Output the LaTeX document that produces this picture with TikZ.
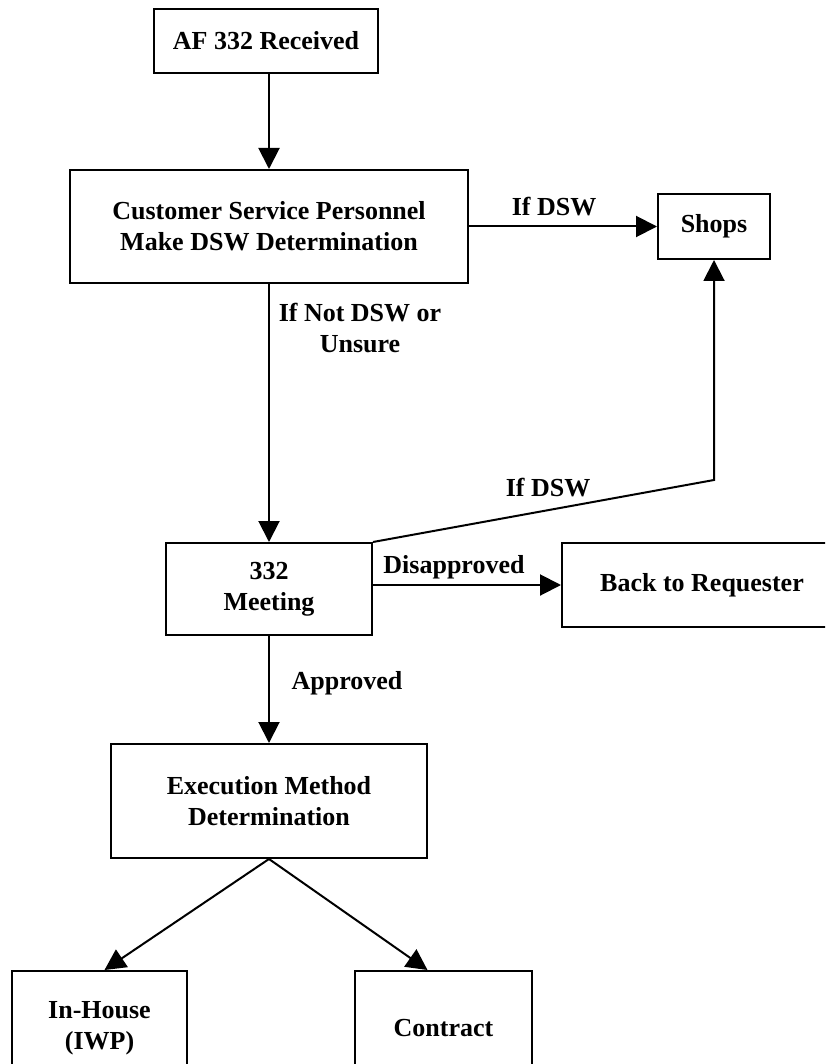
\documentclass[tikz,border=0pt]{standalone}
\usepackage{fontspec}
\setmainfont{Liberation Serif}
\usetikzlibrary{arrows.meta,calc}

\begin{document}
\begin{tikzpicture}[x=1pt,y=-1pt,
  every node/.style={font=\fontsize{26}{31}\selectfont\bfseries, align=center, inner sep=0pt},
  box/.style={draw, line width=2pt, rectangle},
  flow/.style={line width=2pt, -{Triangle[length=21pt,width=21pt]}},
  lbl/.style={}]
  \useasboundingbox (0,0) rectangle (825,1064);
  \clip (0,0) rectangle (825,1064);

  % process boxes
  \node[box, minimum width=224pt, minimum height=64pt]  (af)   at (266,41)    {AF 332 Received};
  \node[box, minimum width=398pt, minimum height=113pt] (cs)   at (269,226.5) {Customer Service Personnel\\Make DSW Determination};
  \node[box, minimum width=112pt, minimum height=65pt]  (shop) at (714,226.5) {Shops};
  \node[box, minimum width=206pt, minimum height=92pt]  (meet) at (269,589)   {332\\Meeting};
  \node[box, minimum width=280pt, minimum height=84pt]  (back) at (702,585)   {Back to Requester};
  \node[box, minimum width=316pt, minimum height=114pt] (exec) at (269,801)   {Execution Method\\Determination};
  \node[box, minimum width=175pt, minimum height=114pt] (inh)  at (99.5,1028) {In-House\\(IWP)};
  \node[box, minimum width=177pt, minimum height=114pt] (con)  at (443.5,1028) {Contract};

  \coordinate (bend) at (714,480);

  % connectors
  \draw[flow] (af.south -| cs.north) -- (cs.north);
  \draw[flow] (cs.east) -- (shop.west);
  \draw[flow] (cs.south) -- (meet.north);
  \draw[flow] (meet.north east) -- (bend) -- (shop.south);
  \draw[flow] (back.west -| meet.east) -- (back.west);
  \draw[flow] (meet.south) -- (exec.north);
  \draw[flow] (exec.south) -- ([xshift=5pt]inh.north);
  \draw[flow] (exec.south) -- ([xshift=-16pt]con.north);

  % connector labels
  \node[lbl] (l1) at (554,207) {If DSW};
  \node[lbl] (l2) at (360,328) {If Not DSW or\\Unsure};
  \node[lbl] (l3) at (548,488) {If DSW};
  \node[lbl] (l4) at (454,567) {Disapproved};
  \node[lbl] (l5) at (347,683) {Approved};
\end{tikzpicture}
\end{document}
